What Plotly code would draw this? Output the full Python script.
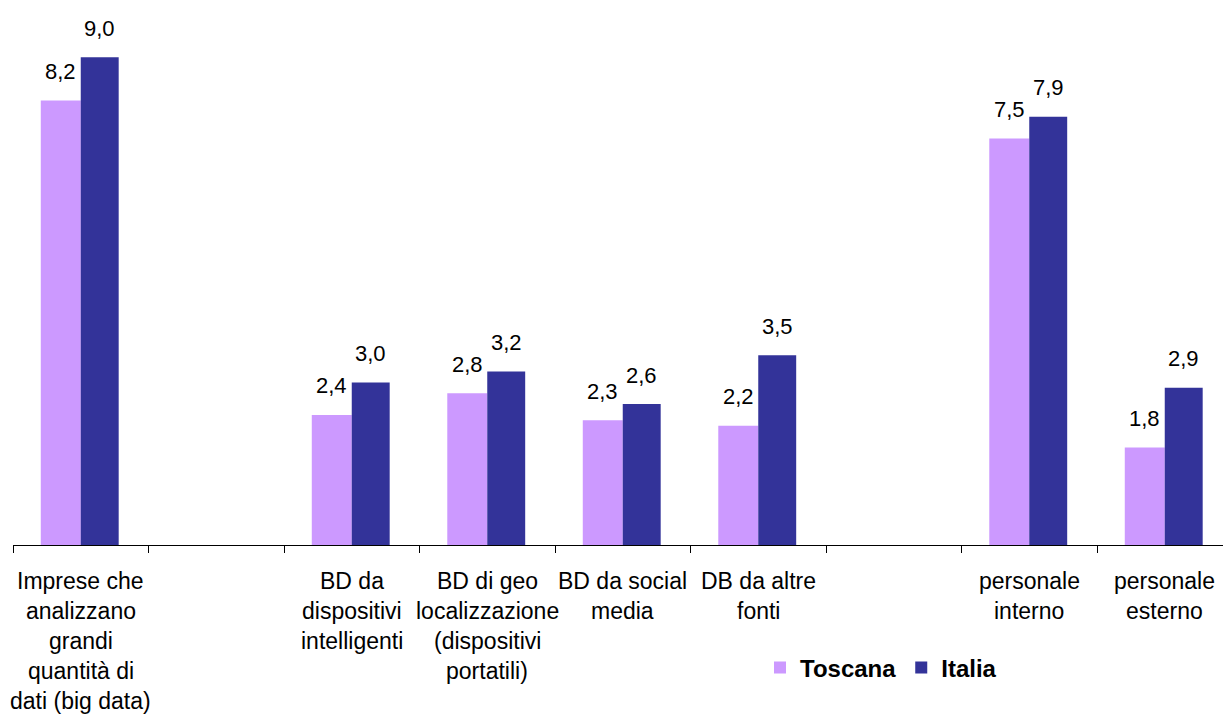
import plotly.graph_objects as go

# Category slots along the x axis (two slots are intentionally left empty)
categories = [
    "Imprese che<br>analizzano<br>grandi<br>quantità di<br>dati (big data)",
    "",
    "BD da<br>dispositivi<br>intelligenti",
    "BD di geo<br>localizzazione<br>(dispositivi<br>portatili)",
    "BD da social<br>media",
    "DB da altre<br>fonti",
    "",
    "personale<br>interno",
    "personale<br>esterno",
]
toscana = [8.2, None, 2.4, 2.8, 2.3, 2.2, None, 7.5, 1.8]
italia = [9.0, None, 3.0, 3.2, 2.6, 3.5, None, 7.9, 2.9]

TOSCANA_COLOR = "#CC99FF"
ITALIA_COLOR = "#333399"
FONT = "Arial, Liberation Sans, sans-serif"

W, H = 1223, 717
M_L, M_R, M_T, M_B = 13, 0, 20, 172
PX_PER_UNIT = 54.2
SLOT_PX = 135.5

plot_w = W - M_L - M_R
plot_h = H - M_T - M_B
x_positions = list(range(len(categories)))

# bar geometry in slot units
T_OFF, T_W = -0.295, 0.295
I_OFF, I_W = 0.0, 0.28

fig = go.Figure()
fig.add_trace(go.Bar(
    name="Toscana", x=x_positions, y=toscana,
    offset=T_OFF, width=T_W,
    marker=dict(color=TOSCANA_COLOR, line=dict(width=0)),
))
fig.add_trace(go.Bar(
    name="Italia", x=x_positions, y=italia,
    offset=I_OFF, width=I_W,
    marker=dict(color=ITALIA_COLOR, line=dict(width=0)),
))

def fmt(v):
    return f"{v:.1f}".replace(".", ",")

annotations = []
# value labels above each bar
for series, off, w in ((toscana, T_OFF, T_W), (italia, I_OFF, I_W)):
    for x, v in zip(x_positions, series):
        if v is None:
            continue
        annotations.append(dict(
            x=x + off + w / 2, y=v, xref="x", yref="y",
            text=fmt(v), showarrow=False, yanchor="middle", yshift=29,
            font=dict(family=FONT, size=22, color="black"),
        ))

# category labels below the axis, one line at a time
LINE_GAP = 30
FIRST_LINE = 36
for x, label in zip(x_positions, categories):
    if not label:
        continue
    for i, line in enumerate(label.split("<br>")):
        annotations.append(dict(
            x=x, y=0, xref="x", yref="y",
            text=line, showarrow=False, yanchor="middle",
            yshift=-(FIRST_LINE + i * LINE_GAP),
            font=dict(family=FONT, size=23, color="black"),
        ))

fig.update_layout(
    width=W, height=H,
    margin=dict(l=M_L, r=M_R, t=M_T, b=M_B),
    paper_bgcolor="white", plot_bgcolor="white",
    barmode="overlay",
    showlegend=True,
    legend=dict(
        orientation="h",
        x=(760 - M_L) / plot_w, xanchor="left",
        y=(545 - 668) / plot_h, yanchor="middle",
        font=dict(family=FONT, size=24, color="black", weight="bold"),
        bgcolor="rgba(0,0,0,0)",
        itemwidth=30,
    ),
    xaxis=dict(
        range=[-0.5, -0.5 + plot_w / SLOT_PX],
        tickvals=[i - 0.5 for i in range(len(categories) + 1)],
        showticklabels=False,
        ticks="outside", ticklen=7, tickcolor="black", tickwidth=1,
        showline=True, linecolor="black", linewidth=1,
        showgrid=False, zeroline=False,
    ),
    yaxis=dict(
        range=[0, plot_h / PX_PER_UNIT],
        visible=False, showgrid=False, zeroline=False,
    ),
    annotations=annotations,
)

fig.write_html("out.html")
